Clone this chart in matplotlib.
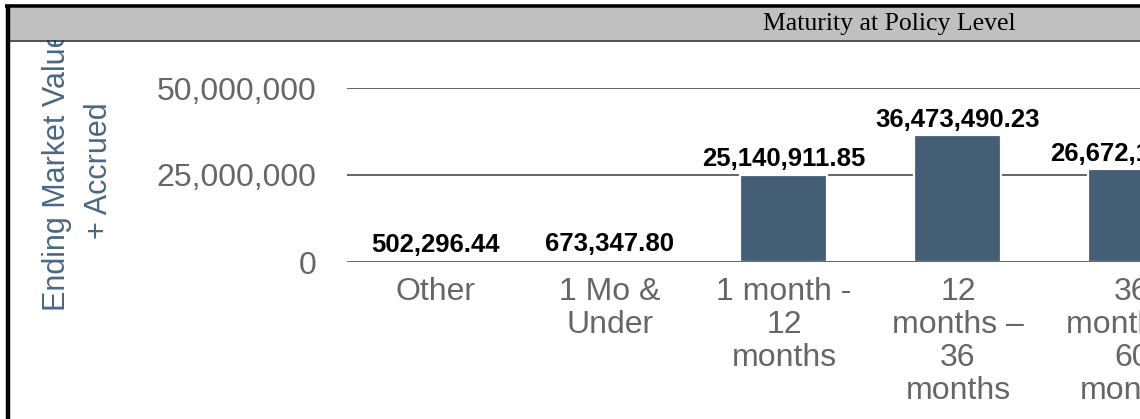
import matplotlib
matplotlib.use("Agg")
import matplotlib.pyplot as plt
from matplotlib.patches import Rectangle

# Data
categories = [
    "Other",
    "1 Mo &\nUnder",
    "1 month -\n12\nmonths",
    "12\nmonths \u2013\n36\nmonths",
    "36\nmonths \u2013\n60\nmonths",
]
values = [502296.44, 673347.80, 25140911.85, 36473490.23, 26672150.00]
y_ticks = [0, 25000000, 50000000]
y_tick_labels = ["0", "25,000,000", "50,000,000"]

W, H = 1140, 419
fig = plt.figure(figsize=(W / 100, H / 100), dpi=100)
plt.rcParams["font.family"] = ["Liberation Sans", "DejaVu Sans"]

# plot area
ax = fig.add_axes([347 / W, 1 - 262 / H, 1 - 347 / W, (262 - 88) / H])
ax.set_xlim(-0.511, 4.046)
ax.set_ylim(0, 50000000)
for s in ax.spines.values():
    s.set_visible(False)

bar_color = "#445e75"
x = list(range(len(categories)))
ax.bar(x, values, width=0.5, color=bar_color, edgecolor="white",
       linewidth=1.6, zorder=2)

for yv in y_ticks[1:]:
    ax.axhline(yv, color="#3a3a3a", linewidth=1.1, zorder=1)
ax.axhline(0, color="#3a3a3a", linewidth=1.1, zorder=3)

for xi, v in zip(x, values):
    ax.annotate(f"{v:,.2f}", xy=(xi, v), xytext=(0, 6), textcoords="offset points",
                ha="center", va="baseline", fontsize=18.5, fontweight="bold",
                color="black", zorder=4)

ax.set_yticks(y_ticks)
ax.set_yticklabels(y_tick_labels)
ax.set_xticks(x)
ax.set_xticklabels(categories)
ax.tick_params(axis="y", length=0, pad=22, labelsize=23, labelcolor="#666666")
ax.tick_params(axis="x", length=0, pad=11, labelsize=23, labelcolor="#666666")
for lab in ax.get_xticklabels():
    lab.set_linespacing(1.12)
for lab in ax.get_yticklabels():
    lab.set_verticalalignment("center_baseline")

# y axis title (partly hidden under the header band)
fig.text(78 / W, 1 - 171 / H, "Ending Market Value\n+ Accrued", rotation=90,
         ha="center", va="center", multialignment="center", fontsize=22,
         color="#4a6784", linespacing=1.48, zorder=1)

# header band and frame
fig.patches.append(Rectangle((10 / W, 1 - 40.5 / H), 1 - 10 / W, 32.5 / H,
                             transform=fig.transFigure, facecolor="#c0c0c0",
                             edgecolor="none", zorder=10))
fig.add_artist(plt.Line2D([10 / W, 1], [1 - 41 / H, 1 - 41 / H], color="#333333",
                          linewidth=1.2, transform=fig.transFigure, zorder=11))
fig.add_artist(plt.Line2D([5 / W, 1], [1 - 6.5 / H, 1 - 6.5 / H], color="black",
                          linewidth=2.6, transform=fig.transFigure, zorder=11,
                          solid_capstyle="butt"))
fig.add_artist(plt.Line2D([7.5 / W, 7.5 / W], [0, 1 - 5 / H], color="black",
                          linewidth=3.2, transform=fig.transFigure, zorder=11,
                          solid_capstyle="butt"))
fig.text(889 / W, 1 - 24 / H, "Maturity at Policy Level", ha="center", va="center",
         fontsize=18.5, family=["Liberation Serif", "DejaVu Serif"], color="black",
         zorder=12)

fig.savefig("out.png", dpi=100)
